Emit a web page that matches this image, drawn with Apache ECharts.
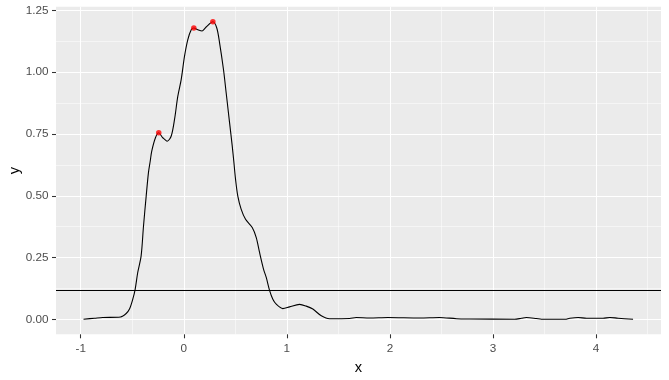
<!DOCTYPE html>
<html><head><meta charset="utf-8">
<script src="https://cdn.jsdelivr.net/npm/echarts@6/dist/echarts.min.js"></script>
<style>html,body{margin:0;padding:0;background:#fff}#c{width:669px;height:380px}</style>
</head><body><div id="c"></div>
<script>
const xTicks = [-1, 0, 1, 2, 3, 4];
const yTicks = [0, 0.25, 0.5, 0.75, 1, 1.25];
const curveX = [-0.973,-0.866,-0.786,-0.614,-0.559,-0.527,-0.495,-0.472,-0.447,-0.414,-0.391,-0.365,-0.343,-0.326,-0.311,-0.275,-0.243,-0.204,-0.161,-0.122,-0.09,-0.058,-0.025,0.007,0.039,0.072,0.097,0.136,0.178,0.217,0.282,0.32,0.347,0.385,0.411,0.444,0.47,0.485,0.502,0.524,0.557,0.599,0.664,0.703,0.735,0.774,0.8,0.832,0.864,0.897,0.961,1.026,1.123,1.188,1.252,1.334,1.414,1.608,1.673,1.802,1.98,2.29,2.48,2.645,2.77,3.21,3.276,3.324,3.42,3.47,3.70,3.745,3.826,3.907,4.068,4.133,4.213,4.359];
const curveY = [0.001,0.005,0.008,0.010,0.024,0.042,0.082,0.122,0.19,0.257,0.378,0.499,0.594,0.64,0.681,0.735,0.755,0.735,0.721,0.742,0.809,0.903,0.971,1.065,1.132,1.172,1.179,1.172,1.167,1.183,1.204,1.179,1.119,1.011,0.917,0.796,0.701,0.64,0.567,0.499,0.445,0.405,0.372,0.331,0.271,0.203,0.170,0.118,0.082,0.062,0.044,0.051,0.061,0.054,0.042,0.015,0.003,0.004,0.008,0.006,0.008,0.006,0.008,0.003,0.002,0.001,0.005,0.008,0.004,0.001,0.001,0.005,0.008,0.005,0.005,0.008,0.005,0.001];
const peakX = [-0.243, 0.097, 0.282];
const peakY = [0.755, 1.179, 1.204];
const hlineY = 0.122;
const xName = 'x';
const yName = 'y';

const chart = echarts.init(document.getElementById('c'), null, {renderer: 'canvas'});
const font = 'Liberation Sans, Arial, sans-serif';
chart.setOption({
  animation: false,
  grid: {left: 56, right: 8, top: 6.7, bottom: 45.7, show: true, backgroundColor: '#EBEBEB', borderWidth: 0,
    containLabel: false, outerBoundsMode: 'none'},
  xAxis: {
    type: 'value', min: -1.24, max: 4.63,
    name: xName, nameLocation: 'middle', nameGap: 26, nameMoveOverlap: false,
    nameTextStyle: {color: '#000', fontSize: 14.67, fontFamily: font},
    axisLine: {show: false, onZero: false},
    axisTick: {show: true, length: 4, lineStyle: {color: '#333333', width: 1.07}, customValues: xTicks},
    axisLabel: {color: '#4D4D4D', fontSize: 11.73, fontFamily: font, margin: 8, customValues: xTicks},
    splitLine: {show: true, lineStyle: {color: '#FFFFFF', width: 1.07}},
    minorTick: {show: false, splitNumber: 2},
    minorSplitLine: {show: true, lineStyle: {color: '#FFFFFF', width: 0.53}}
  },
  yAxis: {
    type: 'value', min: -0.06, max: 1.265, splitNumber: 3,
    name: yName, nameLocation: 'middle', nameGap: 34, nameRotate: 90, nameMoveOverlap: false,
    nameTextStyle: {color: '#000', fontSize: 14.67, fontFamily: font},
    axisLine: {show: false, onZero: false},
    axisTick: {show: true, length: 4, lineStyle: {color: '#333333', width: 1.07}, customValues: yTicks},
    axisLabel: {color: '#4D4D4D', fontSize: 11.73, fontFamily: font, margin: 7.5, customValues: yTicks,
      formatter: v => v.toFixed(2)},
    splitLine: {show: true, lineStyle: {color: '#FFFFFF', width: 1.07}},
    minorTick: {show: false, splitNumber: 4},
    minorSplitLine: {show: true, lineStyle: {color: '#FFFFFF', width: 0.53}}
  },
  series: [
    {
      type: 'line', data: curveX.map((x, i) => [x, curveY[i]]),
      showSymbol: false, smooth: 0.3, lineStyle: {color: '#000', width: 1.1},
      silent: true, z: 2,
      markLine: {silent: true, symbol: ['none', 'none'], label: {show: false},
        lineStyle: {color: '#000', width: 1.1, type: 'solid'},
        data: [{yAxis: hlineY}]}
    },
    {
      type: 'scatter', data: peakX.map((x, i) => [x, peakY[i]]),
      symbolSize: 5.5, itemStyle: {color: '#FF0000'}, silent: true, z: 3
    }
  ]
});
</script></body></html>
